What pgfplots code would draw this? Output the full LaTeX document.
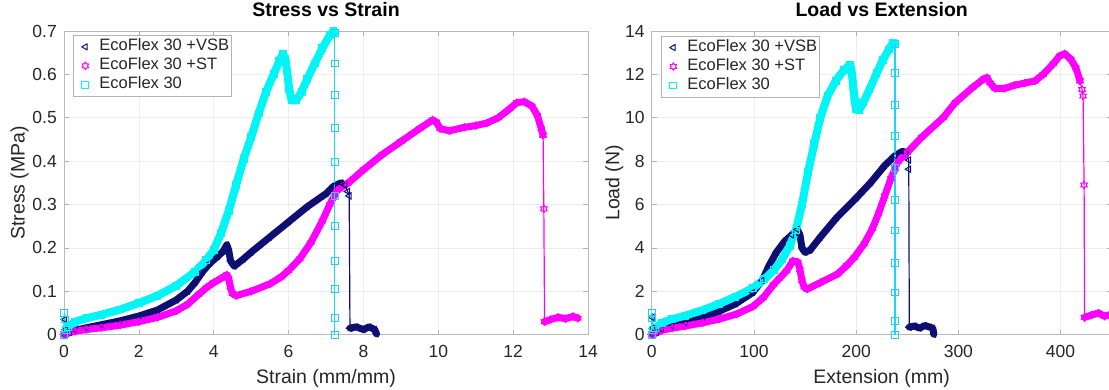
\documentclass[border=0pt]{standalone}
\usepackage{pgfplots}
\pgfplotsset{compat=1.18}
\usepackage{fontspec}
\setmainfont{Liberation Sans}
\definecolor{cnavy}{RGB}{15,15,115}
\definecolor{cmag}{RGB}{255,0,255}
\definecolor{ccyan}{RGB}{0,245,245}

\pgfdeclareplotmark{hexagram}{%
  \pgfpathmoveto{\pgfpointpolar{90}{\pgfplotmarksize}}%
  \pgfpathlineto{\pgfpointpolar{120}{0.577*\pgfplotmarksize}}%
  \pgfpathlineto{\pgfpointpolar{150}{\pgfplotmarksize}}%
  \pgfpathlineto{\pgfpointpolar{180}{0.577*\pgfplotmarksize}}%
  \pgfpathlineto{\pgfpointpolar{210}{\pgfplotmarksize}}%
  \pgfpathlineto{\pgfpointpolar{240}{0.577*\pgfplotmarksize}}%
  \pgfpathlineto{\pgfpointpolar{270}{\pgfplotmarksize}}%
  \pgfpathlineto{\pgfpointpolar{300}{0.577*\pgfplotmarksize}}%
  \pgfpathlineto{\pgfpointpolar{330}{\pgfplotmarksize}}%
  \pgfpathlineto{\pgfpointpolar{0}{0.577*\pgfplotmarksize}}%
  \pgfpathlineto{\pgfpointpolar{30}{\pgfplotmarksize}}%
  \pgfpathlineto{\pgfpointpolar{60}{0.577*\pgfplotmarksize}}%
  \pgfpathclose
  \pgfusepathqstroke
}

\pgfplotsset{
  mybase/.style={
    scale only axis, height=303.7pt, anchor=south west,
    clip=false,
    axis line style={gray!55, line width=0.7pt},
    tick style={gray!60, line width=0.7pt},
    major tick length=5pt,
    tick align=inside, tick pos=both,
    grid=major, grid style={gray!14, line width=0.6pt},
    /pgf/number format/assume math mode=true,
    tick label style={font=\fontsize{17.5}{20}\selectfont, text=black!85},
    xticklabel style={anchor=base, yshift=-23pt},
    yticklabel style={anchor=east, inner sep=0pt, xshift=-7pt},
    label style={font=\fontsize{19.5}{22}\selectfont, text=black!85},
    xlabel style={at={(axis description cs:0.5,-0.1597)}, anchor=base},
    title style={font=\bfseries\fontsize{19.5}{22}\selectfont, at={(axis description cs:0.5,1.0273)}, anchor=base},
    legend image code/.code={\path[draw=none, fill=none] (0pt,-3pt) rectangle (24pt,3pt); \draw[##1, only marks] plot coordinates {(11pt,0pt)};},
    legend cell align=left,
  },
  bandN/.style={cnavy, line width=7pt, line join=round, line cap=round, mark=triangle, mark size=3.6pt, mark options={rotate=90, line width=1pt, solid}},
  bandM/.style={cmag, line width=7pt, line join=round, line cap=round, mark=hexagram, mark size=3.8pt, mark options={line width=1pt, solid}},
  bandC/.style={ccyan, line width=8pt, line join=round, line cap=round, mark=square, mark size=3.4pt, mark options={line width=1pt, solid}},
  dropN/.style={cnavy, line width=1.2pt, mark=triangle, mark size=3.6pt, mark options={rotate=90, line width=1pt, solid}},
  dropM/.style={cmag, line width=1.2pt, mark=hexagram, mark size=3.8pt, mark options={line width=1pt, solid}},
  dropC/.style={ccyan!85!blue!90!white, line width=1.6pt, mark=square, mark size=3.4pt, mark options={line width=1pt, solid}},
}

\begin{document}
\begin{tikzpicture}
% ---------------- Stress vs Strain ----------------
\begin{axis}[mybase,
  at={(64pt,54.3pt)}, width=524pt,
  xmin=0, xmax=14, ymin=0, ymax=0.7,
  xtick={0,2,4,6,8,10,12,14},
  ytick={0,0.1,0.2,0.3,0.4,0.5,0.6,0.7},
  yticklabels={0,0.1,0.2,0.3,0.4,0.5,0.6,0.7},
  xlabel={Strain (mm/mm)}, ylabel={Stress (MPa)},
  ylabel style={at={(axis description cs:-0.0849,0.5)}, anchor=center},
  title={Stress vs Strain},
  legend style={at={(axis description cs:0.0172,0.9868)}, anchor=north west,
    draw=gray!60, line width=0.7pt, fill=white, font=\fontsize{16.5}{19}\selectfont, text=black!85,
    inner xsep=1pt, inner ysep=2pt,
    nodes={inner sep=1pt, text height=12.5pt, text depth=4.5pt}},
]
% navy
\addplot[dropN, forget plot] coordinates {(0,0) (0.02,0.035) (0.04,0.012) (0.07,0.003)};
\addplot[bandN] coordinates {
(0.07,0.003) (0.15,0.005) (0.3,0.01) (0.6,0.016) (1.0,0.023) (1.5,0.032) (2.0,0.043)
(2.5,0.057) (3.0,0.08) (3.3,0.1) (3.5,0.12) (3.7,0.145) (3.9,0.165) (4.1,0.18)
(4.25,0.192) (4.35,0.207) (4.4,0.195) (4.45,0.17) (4.55,0.158) (4.8,0.175) (5.0,0.19)
(5.5,0.225) (6.0,0.26) (6.5,0.295) (7.0,0.325) (7.2,0.342) (7.4,0.35) (7.5,0.345)};
\addlegendentry{EcoFlex 30 +VSB}
\addplot[dropN, forget plot] coordinates {(7.5,0.345) (7.58,0.33) (7.62,0.32) (7.64,0.015)};
\addplot[bandN, forget plot] coordinates {(7.64,0.015) (7.8,0.018) (8.0,0.012) (8.15,0.018) (8.3,0.012) (8.35,0.002)};
% magenta
\addplot[bandM] coordinates {
(0,0) (0.1,0.004) (0.3,0.008) (0.6,0.012) (1.0,0.016) (1.5,0.022) (2.0,0.03) (2.5,0.04)
(3.0,0.055) (3.3,0.07) (3.6,0.093) (3.8,0.108) (4.0,0.12) (4.2,0.13) (4.35,0.138)
(4.4,0.13) (4.45,0.108) (4.5,0.095) (4.6,0.09) (5.0,0.1) (5.5,0.117) (5.8,0.133)
(6.0,0.148) (6.3,0.175) (6.6,0.213) (6.9,0.262) (7.1,0.3) (7.3,0.333) (7.6,0.35)
(8.0,0.38) (8.5,0.415) (9.0,0.445) (9.5,0.475) (9.85,0.495) (9.95,0.49) (10.05,0.475)
(10.3,0.47) (10.7,0.478) (11.0,0.482) (11.3,0.488) (11.6,0.5) (11.9,0.52) (12.1,0.535)
(12.3,0.537) (12.5,0.527) (12.65,0.505) (12.75,0.475) (12.8,0.46)};
\addlegendentry{EcoFlex 30 +ST}
\addplot[dropM, forget plot] coordinates {(12.8,0.46) (12.82,0.29) (12.84,0.03)};
\addplot[bandM, forget plot] coordinates {(12.84,0.03) (13.0,0.035) (13.2,0.04) (13.4,0.037) (13.6,0.042) (13.73,0.038)};
% cyan
\addplot[dropC, forget plot] coordinates {(0,0) (0.01,0.05) (0.02,0.035) (0.05,0.01)};
\addplot[bandC] coordinates {
(0.05,0.01) (0.1,0.018) (0.3,0.03) (0.6,0.038) (1.0,0.046) (1.5,0.058) (2.0,0.073)
(2.5,0.09) (3.0,0.113) (3.5,0.145) (3.8,0.172) (4.0,0.195) (4.2,0.235) (4.4,0.285)
(4.6,0.345) (4.8,0.405) (5.0,0.455) (5.2,0.51) (5.4,0.56) (5.6,0.6) (5.75,0.63)
(5.85,0.648) (5.92,0.635) (5.97,0.6) (6.02,0.565) (6.08,0.54) (6.2,0.54) (6.35,0.56)
(6.5,0.59) (6.7,0.625) (6.9,0.66) (7.1,0.69) (7.2,0.7) (7.23,0.695)};
\addlegendentry{EcoFlex 30}
\addplot[dropC, forget plot] coordinates {(7.23,0.695) (7.23,0.625) (7.23,0.552) (7.23,0.476)
(7.23,0.398) (7.23,0.32) (7.23,0.25) (7.23,0.17) (7.23,0.105) (7.23,0.039) (7.23,0)};
\end{axis}

% ---------------- Load vs Extension ----------------
\begin{axis}[mybase,
  at={(651.7pt,54.3pt)}, width=460pt,
  xmin=0, xmax=450, ymin=0, ymax=14,
  xtick={0,100,200,300,400},
  ytick={0,2,4,6,8,10,12,14},
  xlabel={Extension (mm)}, ylabel={Load (N)},
  ylabel style={at={(axis description cs:-0.0815,0.5)}, anchor=center},
  title={Load vs Extension},
  legend style={at={(axis description cs:0.0202,0.9845)}, anchor=north west,
    draw=gray!60, line width=0.7pt, fill=white, font=\fontsize{16.5}{19}\selectfont, text=black!85,
    inner xsep=1pt, inner ysep=2pt,
    nodes={inner sep=1pt, text height=12.5pt, text depth=4.5pt}},
]
% navy
\addplot[dropN, forget plot] coordinates {(0,0) (0.5,0.8) (1,0.3) (2,0.05)};
\addplot[bandN] coordinates {
(2,0.05) (5,0.1) (10,0.24) (20,0.4) (33,0.55) (50,0.8) (66,1.08) (82,1.42) (99,1.95)
(108,2.5) (115,3.2) (122,3.8) (130,4.3) (137,4.6) (142.5,4.85) (145,4.6) (147,4.0)
(150,3.8) (155,3.9) (165,4.5) (181,5.4) (200,6.3) (214,7.0) (228,7.8) (238,8.25)
(245,8.45) (249,8.4)};
\addlegendentry{EcoFlex 30 +VSB}
\addplot[dropN, forget plot] coordinates {(249,8.4) (251.5,8.05) (251.5,7.63) (252,0.35)};
\addplot[bandN, forget plot] coordinates {(252,0.35) (257,0.4) (262,0.3) (267,0.42) (272,0.35) (275,0.3) (276,0.02)};
% magenta
\addplot[bandM] coordinates {
(0,0) (3,0.08) (10,0.2) (20,0.3) (33,0.4) (50,0.55) (66,0.72) (83,0.95) (99,1.3)
(109,1.7) (119,2.3) (125,2.6) (132,2.95) (138,3.4) (143,3.35) (145,3.0) (147,2.5)
(149,2.2) (152,2.1) (165,2.4) (182,2.8) (191,3.2) (198,3.55) (208,4.2) (216,4.9)
(222,5.6) (228,6.4) (234,7.2) (241,8.0) (250,8.4) (264,9.1) (285,10.0) (297,10.7)
(314,11.4) (325,11.8) (328,11.85) (331,11.6) (336,11.35) (345,11.35) (355,11.5)
(365,11.6) (375,11.7) (383,12.0) (393,12.5) (399,12.85) (404,12.95) (410,12.7)
(415,12.3) (419,11.7)};
\addlegendentry{EcoFlex 30 +ST}
\addplot[dropM, forget plot] coordinates {(419,11.7) (421,11.3) (422,11.0) (423,6.9) (423.5,0.8)};
\addplot[bandM, forget plot] coordinates {(423.5,0.8) (430,0.9) (437,1.0) (443,0.85) (450,0.95) (460,1.0)};
% cyan
\addplot[dropC, forget plot] coordinates {(0,0) (0.3,1.0) (0.6,0.75) (1.5,0.2) (3.3,0.3)};
\addplot[bandC] coordinates {
(3.3,0.3) (10,0.55) (20,0.72) (33,0.88) (49,1.12) (66,1.42) (82,1.75) (99,2.15) (110,2.55)
(120,3.0) (128,3.5) (135,4.1) (141,4.8) (147,6.0) (153,7.5) (159,8.8) (165,10.0)
(172,11.0) (180,11.7) (188,12.2) (194,12.45) (195.5,12.2) (197,11.5) (198.5,10.8)
(200,10.4) (203,10.35) (207,10.7) (213,11.3) (220,12.05) (226,12.65) (232,13.15)
(236,13.45) (238,13.4)};
\addlegendentry{EcoFlex 30}
\addplot[dropC, forget plot] coordinates {(238,13.4) (238,12.05) (238,10.6) (238,9.15)
(238,7.7) (238,6.2) (238,4.8) (238,3.3) (238,1.95) (238,0.65) (238,0)};
\end{axis}
\pgfresetboundingbox
\useasboundingbox (0,0) rectangle (1109pt,389pt);
\end{tikzpicture}
\end{document}
